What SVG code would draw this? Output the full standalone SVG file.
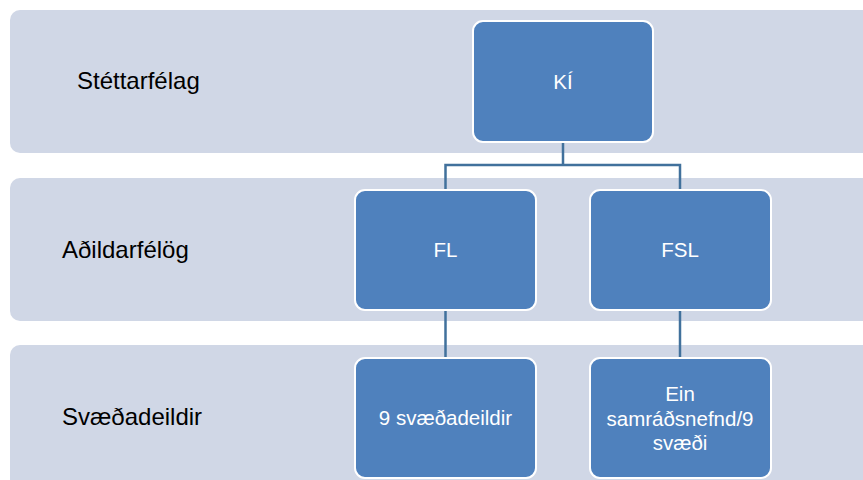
<svg xmlns="http://www.w3.org/2000/svg" width="863" height="480" viewBox="0 0 863 480">
<style>
.band{fill:#d0d7e6}
.box{fill:#4f81bd;stroke:#ffffff;stroke-width:2}
.lbl{font-family:"Liberation Sans",Arial,sans-serif;font-size:24px;fill:#000000}
.bt{font-family:"Liberation Sans",Arial,sans-serif;font-size:20.5px;fill:#ffffff;text-anchor:middle}
.con{fill:none;stroke:#41719c;stroke-width:2.5}
</style>
<rect width="863" height="480" fill="#ffffff"/>
<g id="band1"><rect class="band" x="10" y="10" width="873" height="143" rx="10"/><text class="lbl" x="77" y="89">Stéttarfélag</text></g>
<g id="band2"><rect class="band" x="10" y="178" width="873" height="143" rx="10"/><text class="lbl" x="62" y="258">Aðildarfélög</text></g>
<g id="band3"><rect class="band" x="10" y="345" width="873" height="160" rx="10"/><text class="lbl" x="62" y="425">Svæðadeildir</text></g>
<g id="connectors">
<path class="con" d="M563 142 V165 H445.5 V190 M563 165 H680 V190"/>
<path class="con" d="M445.5 310 V358"/>
<path class="con" d="M680 310 V358"/>
</g>
<g id="ki"><rect class="box" x="473" y="21" width="180" height="121" rx="10"/><text class="bt" x="563" y="89">KÍ</text></g>
<g id="fl"><rect class="box" x="355" y="190" width="181" height="120" rx="10"/><text class="bt" x="445.5" y="257">FL</text></g>
<g id="fsl"><rect class="box" x="590" y="190" width="181" height="120" rx="10"/><text class="bt" x="680" y="257">FSL</text></g>
<g id="fl9"><rect class="box" x="355" y="358" width="181" height="120" rx="10"/><text class="bt" x="445.5" y="425">9 svæðadeildir</text></g>
<g id="fslsv"><rect class="box" x="590" y="358" width="181" height="120" rx="10"/><text class="bt" x="680" y="401">Ein</text><text class="bt" x="680" y="426">samráðsnefnd/9</text><text class="bt" x="680" y="450">svæði</text></g>
</svg>
